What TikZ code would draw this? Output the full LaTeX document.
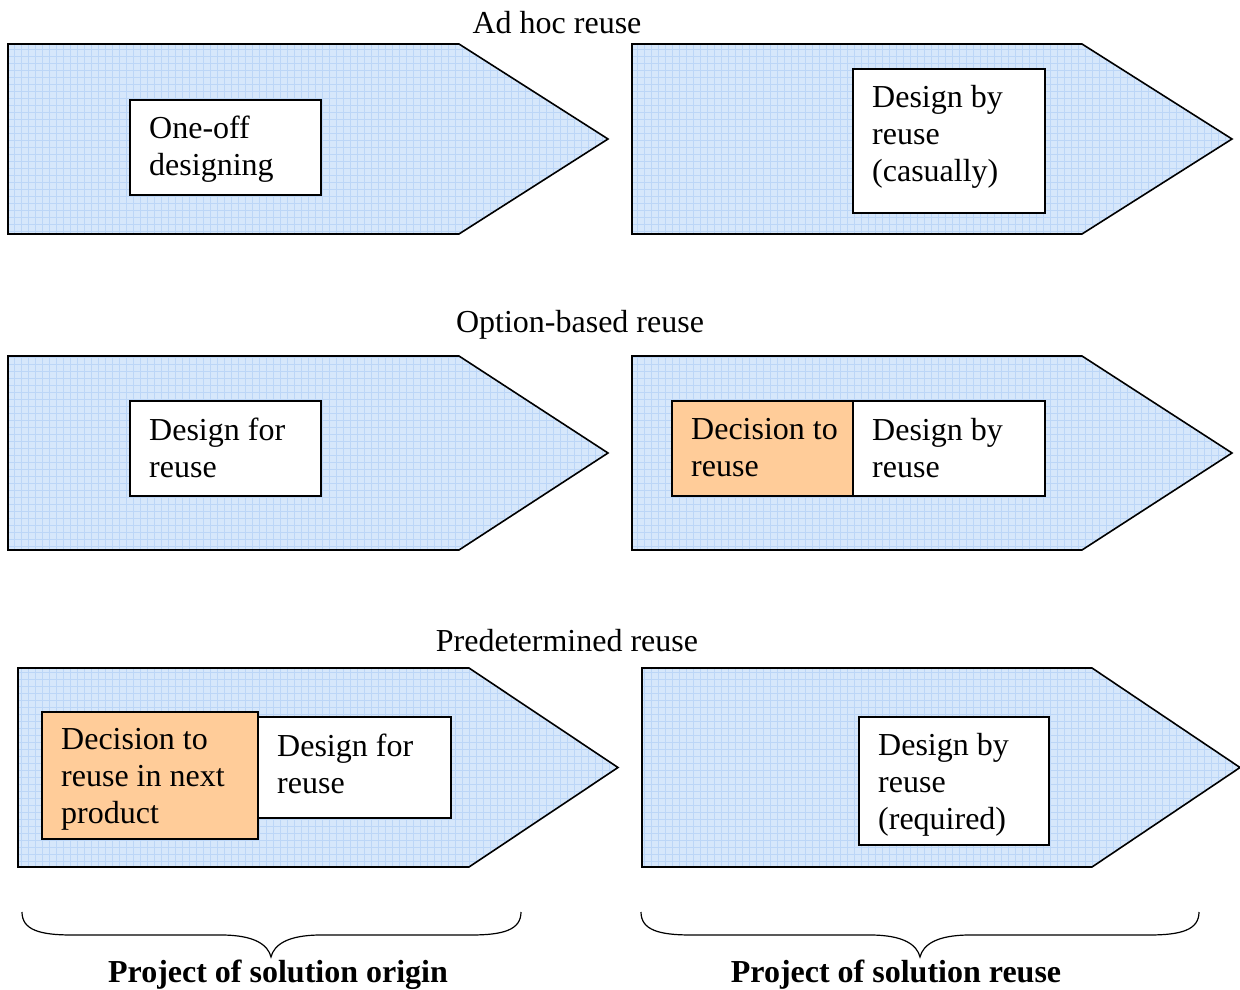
\documentclass[tikz,border=0pt]{standalone}
\usepackage{fontspec}
\setmainfont{Liberation Serif}
\definecolor{panelblue}{RGB}{214,231,251}
\definecolor{panelgrid}{RGB}{188,214,247}
\definecolor{decisionorange}{RGB}{255,204,153}
\tikzset{
  outline/.style={draw=black, line width=1.6pt, line join=miter},
  gridline/.style={draw=panelgrid, line width=0.7pt},
  frame/.style={draw=black, line width=1.6pt, fill=white, inner sep=0pt, anchor=north west},
  decframe/.style={frame, fill=decisionorange},
  boxtext/.style={align=left, inner sep=0pt, anchor=west, font=\fontsize{32}{37}\selectfont},
  rowtitle/.style={font=\fontsize{32}{37}\selectfont, inner sep=0pt},
  sidelabel/.style={font=\fontsize{32}{37}\selectfont\bfseries, inner sep=0pt},
  bracestroke/.style={draw=black, line width=1.2pt}
}
% chevron panel: left x, end of straight edge, tip x, top y, bottom y
\newcommand\chevron[5]{%
  \begin{scope}
    \clip (#1,#4) -- (#2,#4) -- (#3,{(#4+#5)/2}) -- (#2,#5) -- (#1,#5) -- cycle;
    \fill[panelblue] (#1,#4) rectangle (#3,#5);
    \draw[gridline, step=7pt] (#1,#4) grid (#3,#5);
  \end{scope}
  \draw[outline] (#1,#4) -- (#2,#4) -- (#3,{(#4+#5)/2}) -- (#2,#5) -- (#1,#5) -- cycle;}
\begin{document}
\begin{tikzpicture}[x=1pt,y=-1pt]
\useasboundingbox (0,0) rectangle (1240,990);

% row titles
\node[rowtitle] (t1) at (557,23) {Ad hoc reuse};
\node[rowtitle] (t2) at (580,325) {Option-based reuse};
\node[rowtitle] (t3) at (567,641) {Predetermined reuse};

% row 1
\chevron{8}{459}{608}{44}{234}
\chevron{632}{1082}{1232}{44}{234}
\node[frame, minimum width=191pt, minimum height=95pt] (oneoff) at (129,99) {};
\node[boxtext] (oneoffT) at (149,149.5) {One-off\\designing};
\node[frame, minimum width=192pt, minimum height=144pt] (casual) at (852,68) {};
\node[boxtext] (casualT) at (872,137) {Design by\\reuse\\(casually)};

% row 2
\chevron{8}{459}{608}{356}{550}
\chevron{632}{1082}{1232}{356}{550}
\node[frame, minimum width=191pt, minimum height=95pt] (dfr2) at (129,400) {};
\node[boxtext] (dfr2T) at (149,448) {Design for\\reuse};
\node[decframe, minimum width=181pt, minimum height=95pt] (dec2) at (671,400) {};
\node[boxtext] (dec2T) at (691,448) {Decision to\\reuse};
\node[frame, minimum width=192pt, minimum height=95pt] (dbr2) at (852,400) {};
\node[boxtext] (dbr2T) at (872,448) {Design by\\reuse};

% row 3
\chevron{18}{469}{618}{668}{867}
\chevron{642}{1092}{1240}{668}{867}
\node[frame, minimum width=193pt, minimum height=101pt] (dfr3) at (257,716) {};
\node[boxtext] (dfr3T) at (277,763.5) {Design for\\reuse};
\node[decframe, minimum width=216pt, minimum height=127pt] (dec3) at (41,711) {};
\node[boxtext] (dec3T) at (61,779.5) {Decision to\\reuse in next\\product};
\node[frame, minimum width=190pt, minimum height=128pt] (dbr3) at (858,716) {};
\node[boxtext] (dbr3T) at (878,785) {Design by\\reuse\\(required)};

% braces under the two columns
\draw[bracestroke] (22,912) .. controls (22,930) and (40,935) .. (72,935) -- (221,935)
  .. controls (255,935) and (268,945) .. (271,957)
  .. controls (274,945) and (287,935) .. (321,935) -- (471,935)
  .. controls (503,935) and (521,930) .. (521,912);
\draw[bracestroke] (641,912) .. controls (641,930) and (659,935) .. (691,935) -- (870,935)
  .. controls (904,935) and (917,945) .. (920,957)
  .. controls (923,945) and (936,935) .. (970,935) -- (1149,935)
  .. controls (1181,935) and (1199,930) .. (1199,912);

\node[sidelabel] (origin) at (278,975) {Project of solution origin};
\node[sidelabel] (reuse) at (896,975) {Project of solution reuse};
\end{tikzpicture}
\end{document}
